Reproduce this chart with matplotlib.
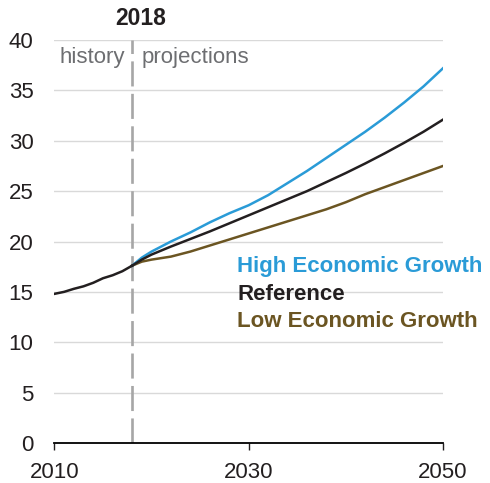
import matplotlib
matplotlib.use('Agg')
import matplotlib.pyplot as plt

plt.rcParams['font.family'] = ['Liberation Sans', 'DejaVu Sans']

# data
histYears = [2010, 2011, 2012, 2013, 2014, 2015, 2016, 2017, 2018]
histValues = [14.8, 15.0, 15.3, 15.55, 15.9, 16.35, 16.65, 17.05, 17.6]

projYears = [2018, 2019, 2020, 2022, 2024, 2026, 2028, 2030, 2032, 2034,
             2036, 2038, 2040, 2042, 2044, 2046, 2048, 2050]
highValues = [17.6, 18.4, 19.0, 20.0, 20.9, 21.9, 22.8, 23.6, 24.6, 25.8,
              27.0, 28.3, 29.6, 30.9, 32.3, 33.8, 35.4, 37.2]
refValues = [17.6, 18.2, 18.7, 19.5, 20.25, 21.0, 21.8, 22.6, 23.4, 24.2,
             25.0, 25.9, 26.8, 27.75, 28.75, 29.8, 30.9, 32.1]
lowValues = [17.6, 18.0, 18.2, 18.5, 19.0, 19.6, 20.2, 20.8, 21.4, 22.0,
             22.6, 23.2, 23.9, 24.7, 25.4, 26.1, 26.8, 27.5]

seriesNames = ['High Economic Growth', 'Reference', 'Low Economic Growth']
seriesColors = ['#2a9bd7', '#231f20', '#6b5522']

fig = plt.figure(figsize=(4.9, 4.83), dpi=100)
ax = fig.add_axes([0.111, 0.083, 0.793, 0.834])

for y in range(5, 45, 5):
    ax.axhline(y, color='#d9d9d9', lw=1.0, zorder=1)

ax.axvline(2018, color='#a6a6a6', lw=1.9, dashes=(9.5, 2.8), zorder=2)

ax.plot(projYears, lowValues, color=seriesColors[2], lw=1.8, zorder=3)
ax.plot(projYears, refValues, color=seriesColors[1], lw=1.8, zorder=4)
ax.plot(projYears, highValues, color=seriesColors[0], lw=1.8, zorder=3)
ax.plot(histYears, histValues, color=seriesColors[1], lw=1.8, zorder=4)

ax.set_xlim(2010, 2050)
ax.set_ylim(0, 40)
ax.set_xticks([2010, 2030, 2050])
ax.set_yticks(range(0, 45, 5))
for s in ['top', 'right', 'left']:
    ax.spines[s].set_visible(False)
ax.spines['bottom'].set_linewidth(1.3)
ax.spines['bottom'].set_zorder(5)
ax.tick_params(axis='x', length=5, width=1.0, direction='out', pad=9,
               labelsize=16, colors='#231f20')
ax.tick_params(axis='y', length=0, pad=15, labelsize=16, colors='#231f20')

ax.text(2017.3, 37.7, 'history', ha='right', va='baseline', fontsize=16, color='#6d6e71')
ax.text(2019.0, 37.7, 'projections', ha='left', va='baseline', fontsize=16, color='#6d6e71')
ax.text(2018.85, 41.5, '2018', ha='center', va='baseline', fontsize=16.5,
        fontweight='bold', color='#231f20', clip_on=False)

for name, color, ypos in zip(seriesNames, seriesColors, [17.0, 14.2, 11.5]):
    ax.text(2028.8, ypos, name, ha='left', va='baseline', fontsize=16,
            fontweight='bold', color=color, clip_on=False)

fig.savefig('out.png', dpi=100)
